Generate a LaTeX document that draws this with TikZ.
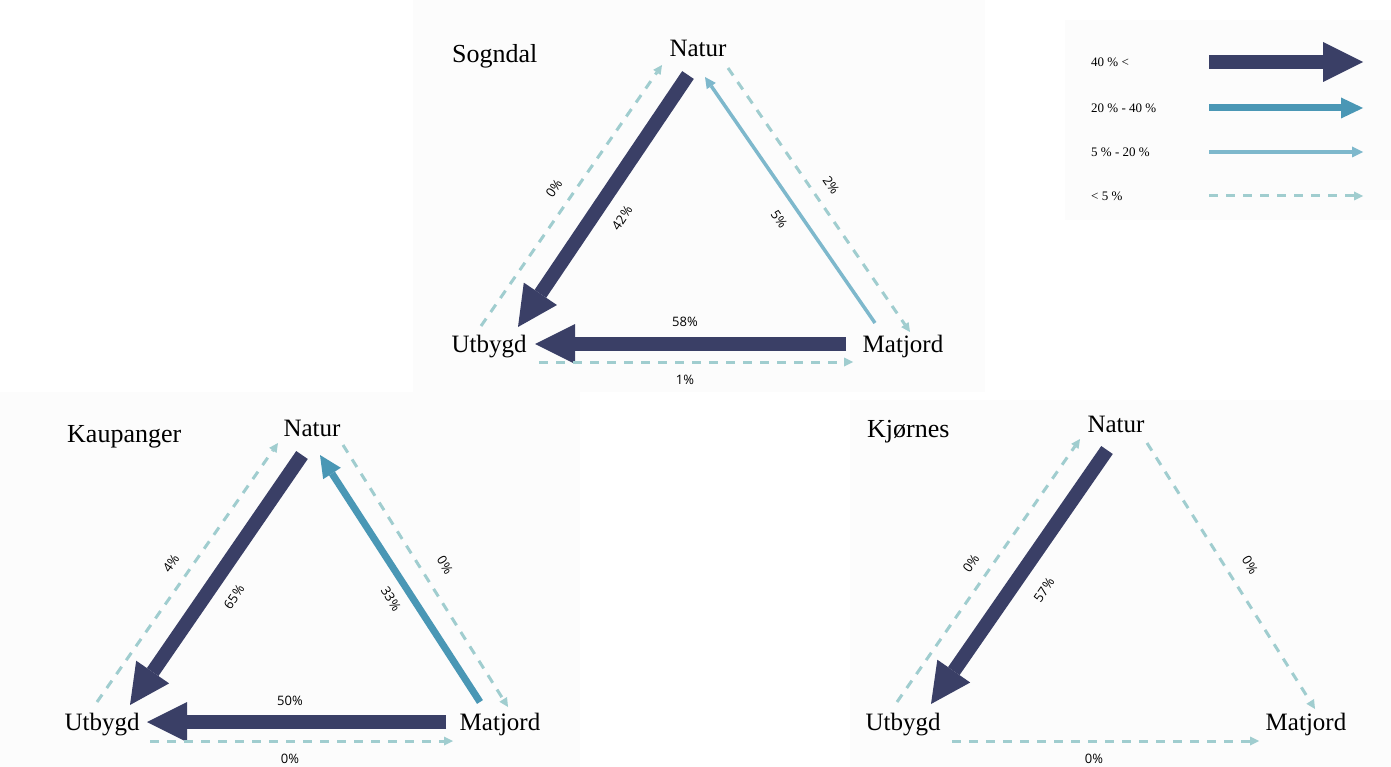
\documentclass[tikz,border=0pt]{standalone}
\usepackage{fontspec}
\setmainfont{Liberation Serif}
\newfontfamily\pctfont{Open Sans}
\usetikzlibrary{arrows.meta}
\definecolor{navy}{RGB}{58,63,102}
\definecolor{midblue}{RGB}{74,151,181}
\definecolor{lightblue}{RGB}{126,184,204}
\definecolor{dashblue}{RGB}{160,205,207}
\definecolor{panelbg}{RGB}{252,252,252}
\tikzset{
  big/.style={draw=navy, line width=14pt, -{Triangle[length=40pt, width=40pt, line width=0pt]}},
  mid/.style={draw=midblue, line width=7pt, -{Triangle[length=22pt, width=21pt, line width=0pt]}},
  thin/.style={draw=lightblue, line width=3.5pt, -{Triangle[length=11pt, width=11pt, line width=0pt]}},
  weak/.style={draw=dashblue, line width=3pt, dash pattern=on 9pt off 8pt, -{Triangle[length=9pt, width=9pt, line width=0pt]}},
  place/.style={font=\fontsize{25}{30}\selectfont, inner sep=0pt, anchor=base},
  title/.style={font=\fontsize{26}{31}\selectfont, inner sep=0pt, anchor=base west},
  pct/.style={font=\pctfont\fontsize{13}{15}\selectfont, inner sep=0pt},
  legtext/.style={font=\fontsize{13}{15}\selectfont, inner sep=0pt, anchor=west},
}
\begin{document}
\begin{tikzpicture}[x=1pt, y=-1pt]
\useasboundingbox (0,0) rectangle (1391,767);
\fill[white] (0,0) rectangle (1391,767);
% faint panel backgrounds
\fill[panelbg] (413,0) rectangle (985,392);
\fill[panelbg] (1065,20) rectangle (1391,220);
\fill[panelbg] (0,392) rectangle (580,767);
\fill[panelbg] (850,400) rectangle (1391,767);

% ---------------- Sogndal ----------------
\node[title] (sT) at (452,63) {Sogndal};
\node[place] (sN) at (698,57) {Natur};
\node[place] (sU) at (489,352) {Utbygd};
\node[place] (sM) at (903,352) {Matjord};
\coordinate (sA1) at (481,326); \coordinate (sA2) at (662,65);
\coordinate (sB1) at (688,75);  \coordinate (sB2) at (518,327);
\coordinate (sC1) at (875,323); \coordinate (sC2) at (705,77);
\coordinate (sD1) at (728,68);  \coordinate (sD2) at (910,332);
\coordinate (sE1) at (846,344); \coordinate (sE2) at (535,344);
\coordinate (sF1) at (539,362); \coordinate (sF2) at (853,362);
\draw[weak] (sA1) -- (sA2);
\draw[big]  (sB1) -- (sB2);
\draw[thin] (sC1) -- (sC2);
\draw[weak] (sD1) -- (sD2);
\draw[big]  (sE1) -- (sE2);
\draw[weak] (sF1) -- (sF2);
\node[pct, rotate=55] (sLa) at (554,188) {0\%};
\node[pct, rotate=56] (sLb) at (622,218) {42\%};
\node[pct, rotate=-55] (sLc) at (779,219) {5\%};
\node[pct, rotate=-55] (sLd) at (831,185) {2\%};
\node[pct] (sLe) at (685,322) {58\%};
\node[pct] (sLf) at (685,380) {1\%};

% ---------------- Kaupanger ----------------
\node[title] (kT) at (67,442) {Kaupanger};
\node[place] (kN) at (312,436) {Natur};
\node[place] (kU) at (102,730) {Utbygd};
\node[place] (kM) at (500,730) {Matjord};
\coordinate (kA1) at (97,702);  \coordinate (kA2) at (278,443);
\coordinate (kB1) at (302,455); \coordinate (kB2) at (130,705);
\coordinate (kC1) at (480,702); \coordinate (kC2) at (320,455);
\coordinate (kD1) at (343,445); \coordinate (kD2) at (508,707);
\coordinate (kE1) at (446,722); \coordinate (kE2) at (147,722);
\coordinate (kF1) at (150,741); \coordinate (kF2) at (453,741);
\draw[weak] (kA1) -- (kA2);
\draw[big]  (kB1) -- (kB2);
\draw[mid]  (kC1) -- (kC2);
\draw[weak] (kD1) -- (kD2);
\draw[big]  (kE1) -- (kE2);
\draw[weak] (kF1) -- (kF2);
\node[pct, rotate=55] (kLa) at (171,563) {4\%};
\node[pct, rotate=56] (kLb) at (234,597) {65\%};
\node[pct, rotate=-58] (kLc) at (391,599) {33\%};
\node[pct, rotate=-58] (kLd) at (445,565) {0\%};
\node[pct] (kLe) at (290,701) {50\%};
\node[pct] (kLf) at (290,759) {0\%};

% ---------------- Kjornes ----------------
\node[title] (jT) at (867,437) {Kjørnes};
\node[place] (jN) at (1116,432) {Natur};
\node[place] (jU) at (903,730) {Utbygd};
\node[place] (jM) at (1306,730) {Matjord};
\coordinate (jA1) at (897,702);  \coordinate (jA2) at (1080,439);
\coordinate (jB1) at (1107,450); \coordinate (jB2) at (931,704);
\coordinate (jD1) at (1147,443); \coordinate (jD2) at (1315,709);
\coordinate (jF1) at (952,741);  \coordinate (jF2) at (1259,741);
\draw[weak] (jA1) -- (jA2);
\draw[big]  (jB1) -- (jB2);
\draw[weak] (jD1) -- (jD2);
\draw[weak] (jF1) -- (jF2);
\node[pct, rotate=55] (jLa) at (971,563) {0\%};
\node[pct, rotate=56] (jLb) at (1044,590) {57\%};
\node[pct, rotate=-58] (jLd) at (1250,565) {0\%};
\node[pct] (jLf) at (1094,759) {0\%};

% ---------------- Legend ----------------
\node[legtext] (g1) at (1091,62) {40 \% <};
\node[legtext] (g2) at (1091,108) {20 \% - 40 \%};
\node[legtext] (g3) at (1091,152) {5 \% - 20 \%};
\node[legtext] (g4) at (1091,196) {< 5 \%};
\coordinate (g1a) at (1209,62);  \coordinate (g1b) at (1363,62);
\coordinate (g2a) at (1209,108); \coordinate (g2b) at (1363,108);
\coordinate (g3a) at (1209,152); \coordinate (g3b) at (1363,152);
\coordinate (g4a) at (1209,196); \coordinate (g4b) at (1363,196);
\draw[big]  (g1a) -- (g1b);
\draw[mid]  (g2a) -- (g2b);
\draw[thin] (g3a) -- (g3b);
\draw[weak] (g4a) -- (g4b);
\end{tikzpicture}
\end{document}
